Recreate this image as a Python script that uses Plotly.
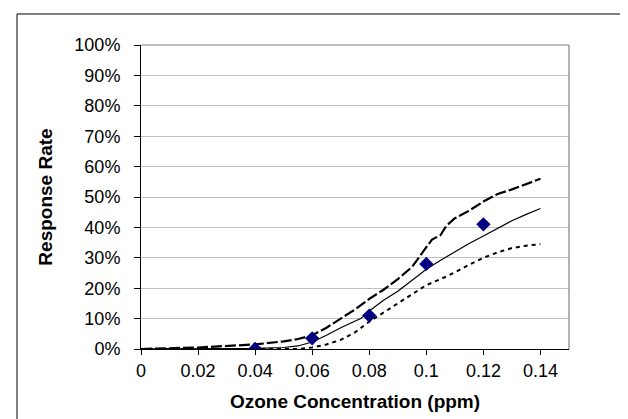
import plotly.graph_objects as go

# Observed data points
obs_x = [0.04, 0.06, 0.08, 0.10, 0.12]
obs_y = [0.0, 0.035, 0.11, 0.28, 0.41]

# Model curves
solid_x = [0, 0.02, 0.04, 0.05, 0.055, 0.06, 0.065, 0.07, 0.077, 0.08, 0.085, 0.09, 0.095, 0.10, 0.105, 0.11, 0.115, 0.12, 0.125, 0.13, 0.135, 0.14]
solid_y = [0, 0.0, 0.002, 0.005, 0.01, 0.023, 0.045, 0.07, 0.10, 0.125, 0.16, 0.19, 0.225, 0.262, 0.292, 0.32, 0.347, 0.372, 0.397, 0.422, 0.443, 0.462]

upper_x = [0, 0.02, 0.04, 0.05, 0.055, 0.06, 0.065, 0.07, 0.075, 0.08, 0.085, 0.09, 0.095, 0.10, 0.102, 0.105, 0.107, 0.11, 0.115, 0.12, 0.125, 0.13, 0.135, 0.14]
upper_y = [0, 0.005, 0.015, 0.025, 0.033, 0.045, 0.07, 0.10, 0.13, 0.165, 0.195, 0.23, 0.27, 0.335, 0.36, 0.375, 0.405, 0.43, 0.455, 0.485, 0.51, 0.525, 0.543, 0.56]

lower_x = [0, 0.02, 0.04, 0.055, 0.06, 0.065, 0.07, 0.075, 0.08, 0.085, 0.09, 0.095, 0.10, 0.105, 0.11, 0.115, 0.12, 0.125, 0.13, 0.135, 0.14]
lower_y = [0, 0.0, 0.0, 0.0, 0.005, 0.015, 0.03, 0.055, 0.09, 0.12, 0.15, 0.18, 0.21, 0.23, 0.252, 0.277, 0.30, 0.318, 0.332, 0.34, 0.345]

x_ticks = [0, 0.02, 0.04, 0.06, 0.08, 0.10, 0.12, 0.14]
x_tick_labels = ["0", "0.02", "0.04", "0.06", "0.08", "0.1", "0.12", "0.14"]
y_ticks = [0, 0.1, 0.2, 0.3, 0.4, 0.5, 0.6, 0.7, 0.8, 0.9, 1.0]
y_tick_labels = ["0%", "10%", "20%", "30%", "40%", "50%", "60%", "70%", "80%", "90%", "100%"]

fig = go.Figure()
fig.add_trace(go.Scatter(x=lower_x, y=lower_y, mode="lines",
                         line=dict(color="black", width=2, dash="4px,4px")))
fig.add_trace(go.Scatter(x=solid_x, y=solid_y, mode="lines",
                         line=dict(color="black", width=1.2)))
fig.add_trace(go.Scatter(x=upper_x, y=upper_y, mode="lines",
                         line=dict(color="black", width=2.2, dash="11px,3px")))
fig.add_trace(go.Scatter(x=obs_x, y=obs_y, mode="markers",
                         marker=dict(symbol="diamond", size=11, color="#000080")))

font = "Liberation Sans, Arial, sans-serif"
fig.update_layout(
    width=628, height=419,
    margin=dict(l=133, r=67, t=37, b=78),
    paper_bgcolor="white", plot_bgcolor="white",
    showlegend=False,
    font=dict(family=font, size=18, color="black"),
    xaxis=dict(range=[0, 0.15], tickvals=x_ticks, ticktext=x_tick_labels,
               showgrid=False, zeroline=False, showline=True, linecolor="black", linewidth=1,
               ticks="outside", ticklen=5, tickcolor="black",
               title=dict(text="<b>Ozone Concentration (ppm)</b>", font=dict(size=19), standoff=15)),
    yaxis=dict(range=[0, 1.0], tickvals=y_ticks, ticktext=y_tick_labels,
               showgrid=True, gridcolor="#c0c0c0", gridwidth=1.2, zeroline=False,
               showline=True, linecolor="black", linewidth=1,
               ticks="outside", ticklen=6, tickcolor="black", ticklabelstandoff=10,
               title=dict(text="<b>Response Rate</b>", font=dict(size=19), standoff=16)),
    shapes=[
        dict(type="line", xref="paper", yref="paper", x0=1, x1=1, y0=0, y1=1,
             line=dict(color="#808080", width=1.2)),
        dict(type="line", xref="paper", yref="paper", x0=0, x1=1, y0=1, y1=1,
             line=dict(color="#808080", width=1.2)),
        dict(type="rect", xref="paper", yref="paper", x0=-0.2897, x1=1.1379, y0=-0.27, y1=1.102,
             line=dict(color="black", width=1)),
    ],
)

fig.write_html("out.html")
